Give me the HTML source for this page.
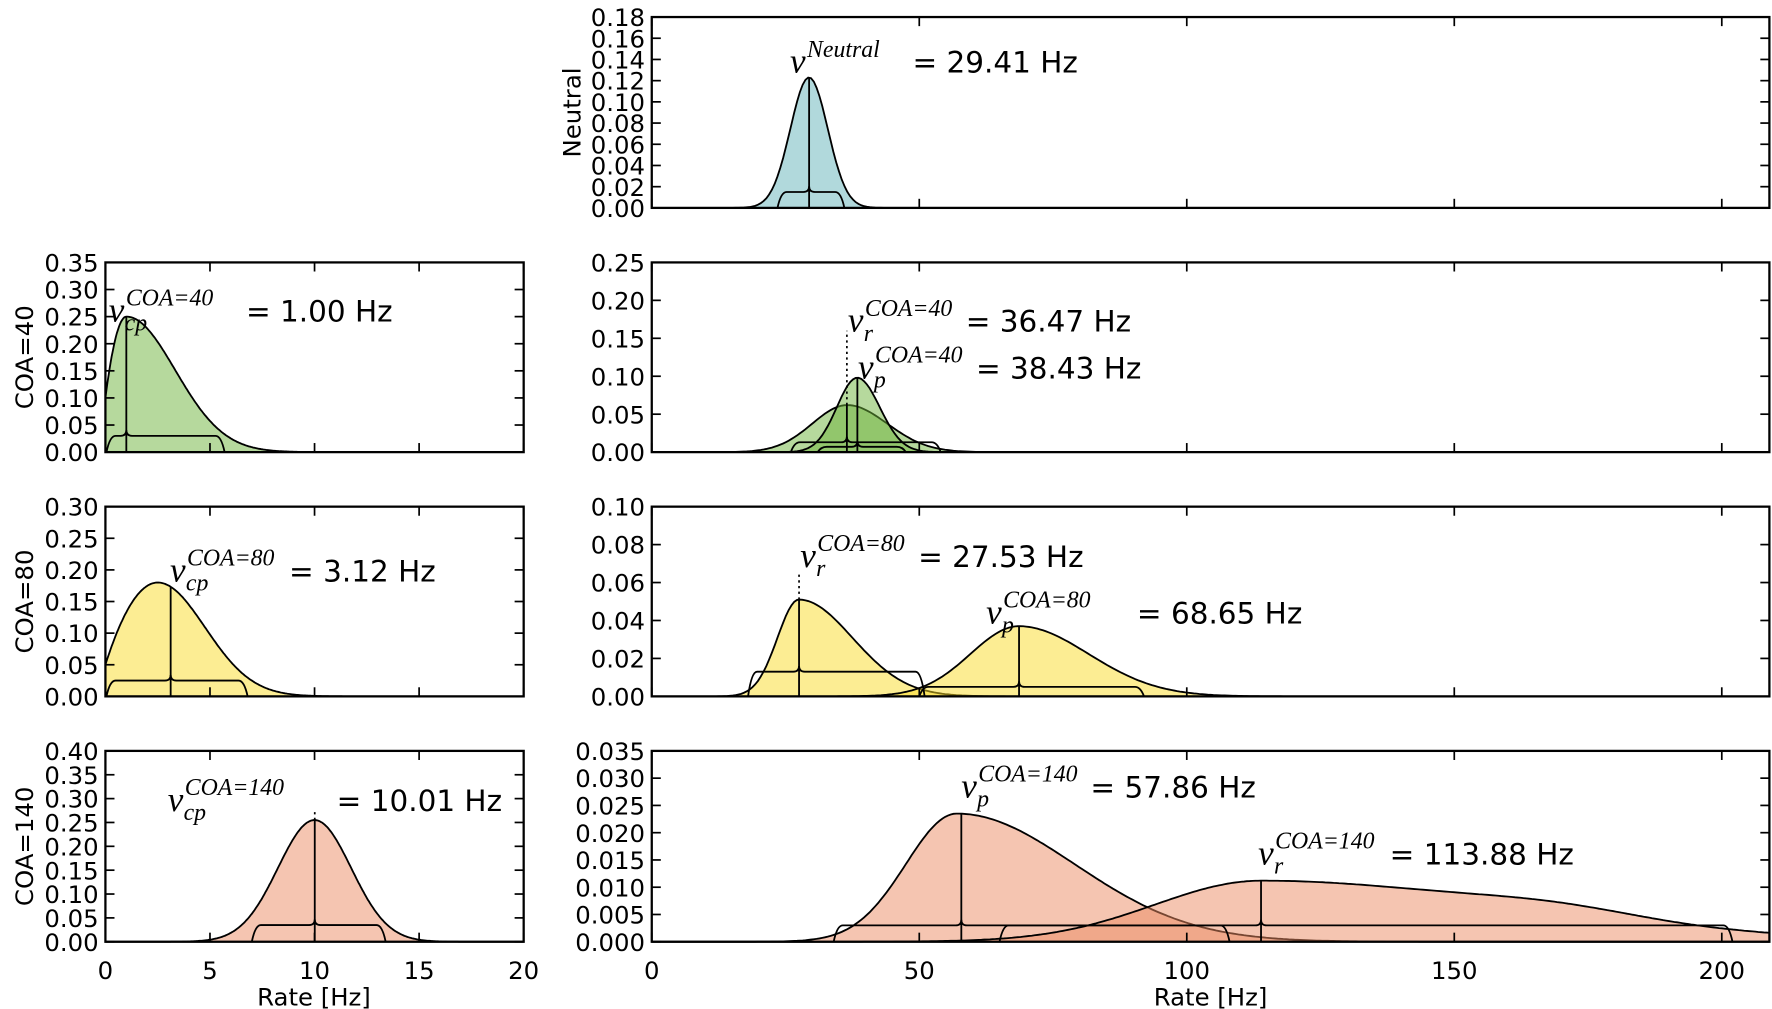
<!DOCTYPE html>
<html><head><meta charset="utf-8"><style>
html,body{margin:0;padding:0;background:#fff;}
svg{display:block;font-family:"DejaVu Sans","Liberation Sans",sans-serif;}
.t{font-size:21.5px;fill:#000;}
.m{font-family:"Liberation Serif",serif;font-style:italic;fill:#000;}
.a{font-size:26px;fill:#000;}
</style></head><body>
<svg id="s" width="1772" height="1009" xmlns="http://www.w3.org/2000/svg"></svg>
<script>
var S=document.getElementById('s');var out='<g transform="scale(1.1335,1.136)">';
function sq(v){return v*v;}
function sg(x,m,sl,sr){var s=x<m?sl:sr;return Math.exp(-0.5*sq((x-m)/s));}
var L={x0:93,x1:462,xmax:20},R={x0:575,x1:1561,xmax:986/4.72};
var rows=[[15,183],[231,398],[446,613],[661,829]];
var panels=[
 {c:R,r:0,ymax:0.18,step:0.02,dec:2,ylab:'Neutral',ylx:505,curves:[
  {f:function(x){return 0.123*sg(x,29.4,3.5,3.5);},col:[100,180,185],med:29.41,bh:0.015,ba:23.5,bb:36}]},
 {c:L,r:1,ymax:0.35,step:0.05,dec:2,ylab:'COA=40',ylx:22,curves:[
  {f:function(x){return x<1?0.25-0.15*sq(1-x):0.25*Math.exp(-sq((x-1)/3.3));},col:[110,180,60],med:1.0,bh:0.03,ba:0.05,bb:5.7}]},
 {c:R,r:1,ymax:0.25,step:0.05,dec:2,curves:[
  {f:function(x){return 0.062*sg(x,36.5,6.5,7.5);},col:[110,180,60],med:36.47,bh:0.013,ba:26,bb:54,dot:0.16},
  {f:function(x){return 0.098*sg(x,38.4,3.8,4.2);},col:[110,180,60],med:38.43,bh:0.007,ba:31,bb:47.5}]},
 {c:L,r:2,ymax:0.30,step:0.05,dec:2,ylab:'COA=80',ylx:22,curves:[
  {f:function(x){return x<2.5?0.18-0.13*sq((2.5-x)/2.5):0.18*Math.exp(-sq((x-2.5)/3.2));},col:[250,220,40],med:3.12,bh:0.025,ba:0.05,bb:6.8}]},
 {c:R,r:2,ymax:0.10,step:0.02,dec:2,curves:[
  {f:function(x){return 0.051*sg(x,27.5,4,10);},col:[250,220,40],med:27.53,bh:0.013,ba:18,bb:51,dot:0.065},
  {f:function(x){return 0.037*sg(x,68.6,9,13);},col:[250,220,40],med:68.65,bh:0.005,ba:50,bb:92}]},
 {c:L,r:3,ymax:0.40,step:0.05,dec:2,ylab:'COA=140',ylx:22,curves:[
  {f:function(x){return 0.255*sg(x,10,1.75,1.75);},col:[235,140,100],med:10.01,bh:0.035,ba:7,bb:13.4,dot:0.275}]},
 {c:R,r:3,ymax:0.035,step:0.005,dec:3,curves:[
  {f:function(x){return 0.0235*sg(x,57,9.5,22);},col:[235,140,100],med:57.86,bh:0.003,ba:34,bb:108},
  {f:function(x){return 0.0112*sg(x,114,20,48)+0.0015*sg(x,170,15,15);},col:[235,140,100],med:113.88,bh:0.003,ba:65,bb:202}]}
];
panels.forEach(function(p){
 var c=p.c,y0=rows[p.r][0],y1=rows[p.r][1];
 var X=function(v){return c.x0+(c.x1-c.x0)*v/c.xmax;}, Y=function(v){return y1-(y1-y0)*v/p.ymax;};
 p.curves.forEach(function(cu){
  var pts=[];
  for(var i=0;i<=400;i++){var x=c.xmax*i/400;pts.push(X(x).toFixed(1)+','+Y(Math.min(cu.f(x),p.ymax)).toFixed(1));}
  out+='<path d="M'+X(0)+','+y1+' L'+pts.join(' L')+' L'+X(c.xmax)+','+y1+' Z" fill="rgba('+cu.col.join(',')+',0.5)" stroke="none"/>';
  out+='<path d="M'+pts.join(' L')+'" fill="none" stroke="#000" stroke-width="1.6"/>';
 });
 p.curves.forEach(function(cu){
  var mx=X(cu.med),pk=Y(cu.f(cu.med)),hy=Y(cu.bh),a=X(cu.ba),b=X(cu.bb);
  out+='<path d="M'+a+','+y1+' Q'+(a+3)+','+hy+' '+(a+8)+','+hy+' L'+(mx-5)+','+hy+' Q'+mx+','+hy+' '+mx+','+(hy-5)+' Q'+mx+','+hy+' '+(mx+5)+','+hy+' L'+(b-8)+','+hy+' Q'+(b-3)+','+hy+' '+b+','+y1+'" fill="none" stroke="#000" stroke-width="1.6"/>';
  out+='<line x1="'+mx+'" y1="'+y1+'" x2="'+mx+'" y2="'+pk+'" stroke="#000" stroke-width="1.6"/>';
  if(cu.dot)out+='<line x1="'+mx+'" y1="'+pk+'" x2="'+mx+'" y2="'+Y(cu.dot)+'" stroke="#000" stroke-width="1.5" stroke-dasharray="2,3"/>';
 });
 out+='<rect x="'+c.x0+'" y="'+y0+'" width="'+(c.x1-c.x0)+'" height="'+(y1-y0)+'" fill="none" stroke="#000" stroke-width="2"/>';
 var n=Math.round(p.ymax/p.step);
 for(var i=0;i<=n;i++){var v=i*p.step,y=Y(v);
  out+='<line x1="'+c.x0+'" y1="'+y+'" x2="'+(c.x0+8)+'" y2="'+y+'" stroke="#000" stroke-width="1.5"/><line x1="'+c.x1+'" y1="'+y+'" x2="'+(c.x1-8)+'" y2="'+y+'" stroke="#000" stroke-width="1.5"/>';
  out+='<text class="t" x="'+(c.x0-6)+'" y="'+(y+8)+'" text-anchor="end">'+v.toFixed(p.dec)+'</text>';}
 var xs=c===L?[0,5,10,15,20]:[0,50,100,150,200];
 xs.forEach(function(v){var x=X(v);out+='<line x1="'+x+'" y1="'+y1+'" x2="'+x+'" y2="'+(y1-8)+'" stroke="#000" stroke-width="1.5"/><line x1="'+x+'" y1="'+y0+'" x2="'+x+'" y2="'+(y0+8)+'" stroke="#000" stroke-width="1.5"/>';
  if(p.r===3)out+='<text class="t" x="'+x+'" y="862" text-anchor="middle">'+v+'</text>';});
 if(p.ylab)out+='<text class="t" transform="translate('+(p.ylx+7)+','+((y0+y1)/2)+') rotate(-90)" text-anchor="middle">'+p.ylab+'</text>';
});
out+='<text class="t" x="277" y="885" text-anchor="middle">Rate [Hz]</text><text class="t" x="1068" y="885" text-anchor="middle">Rate [Hz]</text>';
function lab(x,y,sup,sub,txt,tx){
 out+='<text class="m" x="'+x+'" y="'+y+'" font-size="31">v</text>';
 out+='<text class="m" x="'+(x+15)+'" y="'+(y-14)+'" font-size="21">'+sup+'</text>';
 if(sub)out+='<text class="m" x="'+(x+14)+'" y="'+(y+8)+'" font-size="21">'+sub+'</text>';
 out+='<text class="a" x="'+tx+'" y="'+y+'">'+txt+'</text>';}
lab(697,64,'Neutral','','= 29.41 Hz',805);
lab(96,283,'COA=40','cp','= 1.00 Hz',217);
lab(748,292,'COA=40','r','= 36.47 Hz',852);
lab(757,333,'COA=40','p','= 38.43 Hz',861);
lab(150,512,'COA=80','cp','= 3.12 Hz',255);
lab(706,499,'COA=80','r','= 27.53 Hz',810);
lab(870,549,'COA=80','p','= 68.65 Hz',1003);
lab(148,714,'COA=140','cp','= 10.01 Hz',297);
lab(848,702,'COA=140','p','= 57.86 Hz',962);
lab(1110,761,'COA=140','r','= 113.88 Hz',1226);
out+='</g>';
S.innerHTML=out;
</script>
</body></html>
